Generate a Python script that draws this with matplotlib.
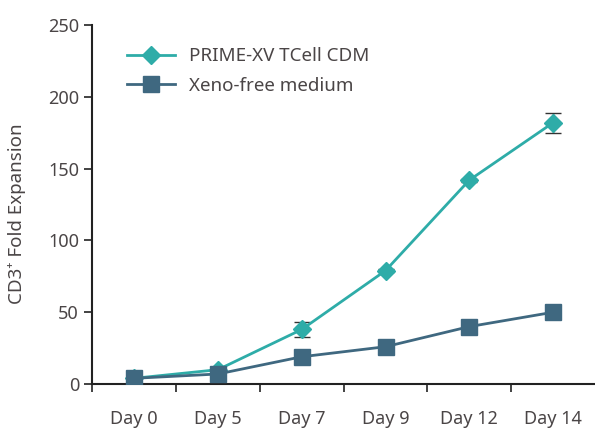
import matplotlib
matplotlib.use("Agg")
import matplotlib.pyplot as plt
import numpy as np

days = ["Day 0", "Day 5", "Day 7", "Day 9", "Day 12", "Day 14"]
prime = [4, 10, 38, 79, 142, 182]
prime_err = [0, 0, 5, 1, 1, 7]
xeno = [4, 7, 19, 26, 40, 50]
xeno_err = [0, 1, 1, 1, 1, 4]

plt.rcParams['font.family'] = ['Noto Sans', 'DejaVu Sans']
txt = '#4a4546'

fig = plt.figure(figsize=(5.95, 4.32), dpi=100)
ax = fig.add_axes([0.155, 0.111, 0.845, 0.831])

x = np.arange(len(days))
ax.errorbar(x, prime, yerr=prime_err, color='#2eaca8', marker='D', markersize=9,
            lw=2, ecolor='#333333', elinewidth=1, capsize=6, capthick=1,
            label='PRIME-XV TCell CDM', zorder=2)
ax.errorbar(x, xeno, yerr=xeno_err, color='#3f6880', marker='s', markersize=11,
            lw=2, ecolor='#333333', elinewidth=1, capsize=6, capthick=1,
            label='Xeno-free medium', zorder=3)

ax.set_xlim(-0.5, 5.5)
ax.set_ylim(0, 250)
ax.set_yticks([0, 50, 100, 150, 200, 250])
ax.set_xticks(x)
ax.set_xticklabels(days)
ax.set_xticks(np.arange(-0.5, 5.0, 1), minor=True)
ax.tick_params(axis='x', which='major', length=0, pad=19, labelsize=13, labelcolor=txt)
ax.tick_params(axis='x', which='minor', length=6, width=1.2, color='#222222')
ax.tick_params(axis='y', length=6, width=1.2, color='#222222', labelsize=13, labelcolor=txt)

for s in ['top', 'right']:
    ax.spines[s].set_visible(False)
for s in ['left', 'bottom']:
    ax.spines[s].set_linewidth(1.5)
    ax.spines[s].set_color('#222222')

ax.set_ylabel('CD3⁺ Fold Expansion', fontsize=13.5, color=txt)
ax.yaxis.set_label_coords(-0.131, 0.474)

h, l = ax.get_legend_handles_labels()
h = [hh[0] for hh in h]
ax.legend(h, l, loc='upper left', bbox_to_anchor=(0.035, 0.985), frameon=False,
          fontsize=13.5, labelcolor=txt, handlelength=2.6, handletextpad=0.7,
          labelspacing=0.6)

fig.savefig('out.png', dpi=100)
